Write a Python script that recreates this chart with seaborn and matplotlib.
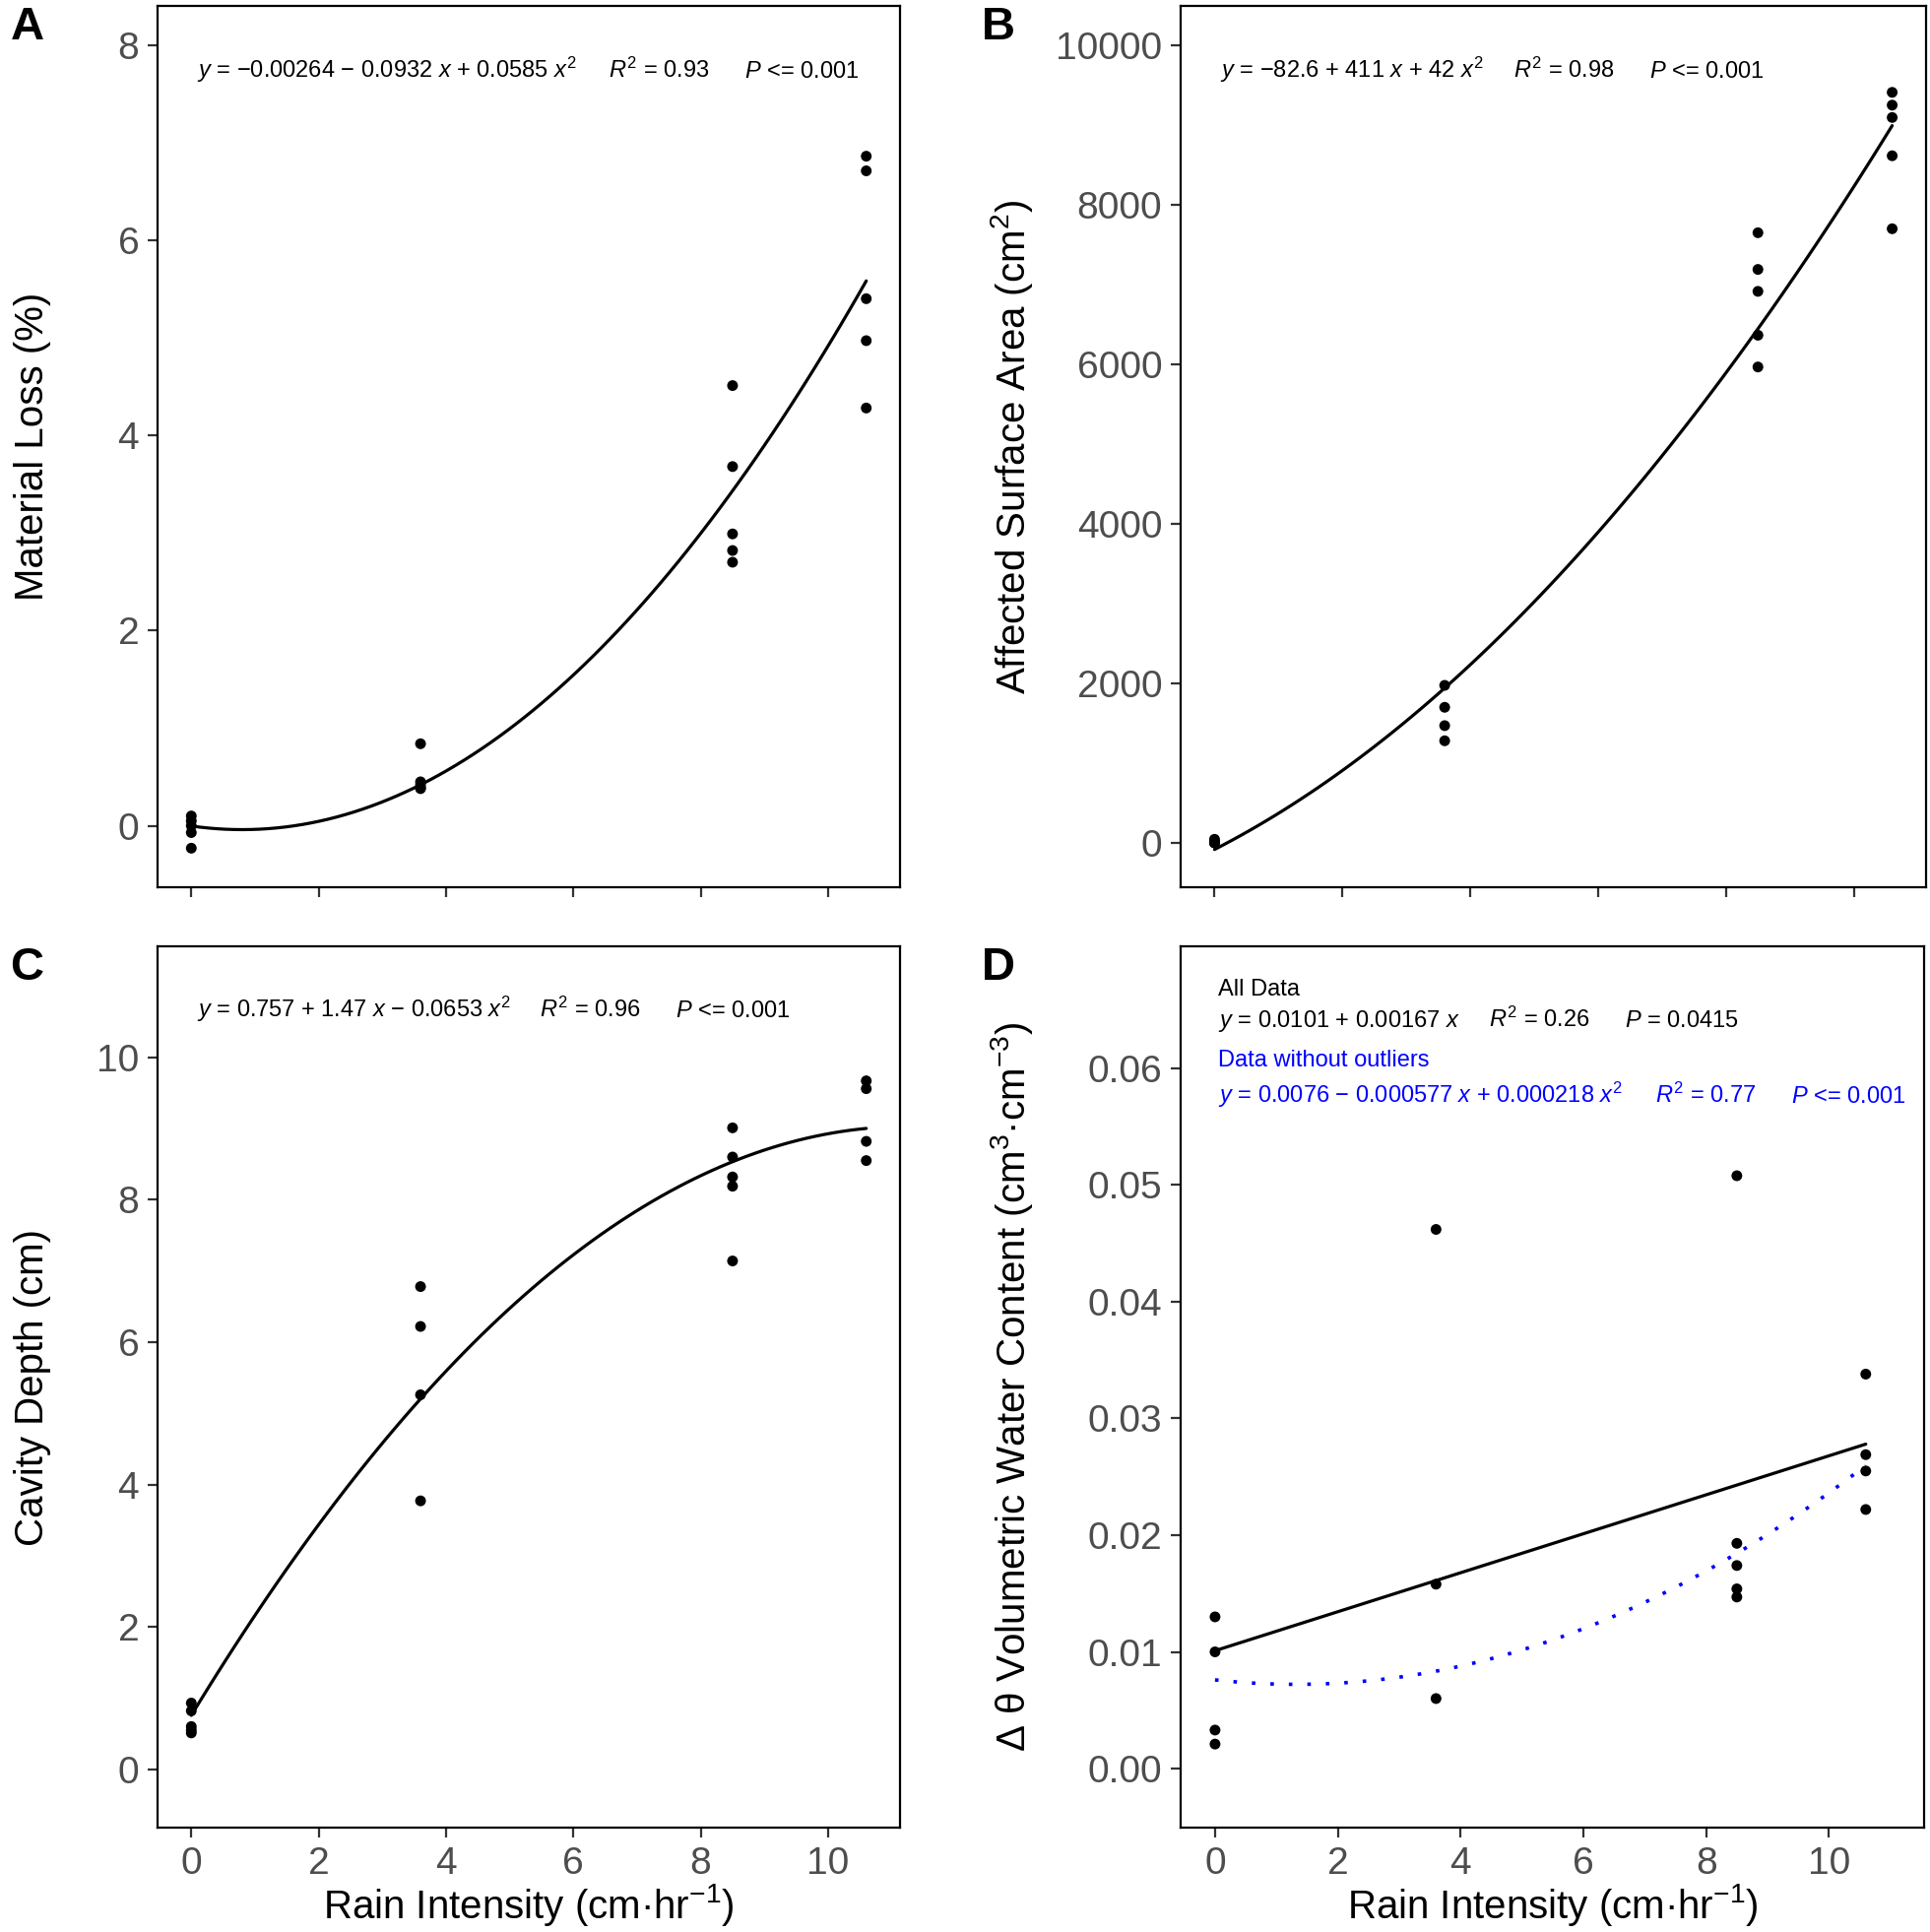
import numpy as np
import pandas as pd
import matplotlib
matplotlib.use("Agg")
import matplotlib.pyplot as plt
import seaborn as sns
from matplotlib import font_manager

# ---------------- data ----------------
rain_levels = [0, 3.6, 8.5, 10.6]

loss_groups = [
    [0.10, 0.05, 0.00, -0.07, -0.23],
    [0.84, 0.45, 0.42, 0.39, 0.38],
    [4.51, 3.68, 2.99, 2.82, 2.70],
    [6.86, 6.71, 5.40, 4.97, 4.28],
]
area_groups = [
    [45, 20, 10, 0, 0],
    [1975, 1700, 1470, 1280],
    [7650, 7190, 6915, 6365, 5967],
    [9410, 9250, 9095, 8615, 7700],
]
depth_groups = [
    [0.93, 0.82, 0.60, 0.55, 0.51],
    [6.78, 6.22, 5.26, 3.77],
    [9.01, 8.60, 8.32, 8.19, 7.14],
    [9.67, 9.56, 8.82, 8.55],
]
vwc_groups = [
    [0.0130, 0.0100, 0.0033, 0.0021],
    [0.0462, 0.0158, 0.0060],
    [0.0508, 0.0193, 0.0174, 0.0154, 0.0147],
    [0.0338, 0.0269, 0.0255, 0.0222],
]

# fitted polynomial coefficients (c0, c1, c2) as printed on the chart
coef_loss = [-0.00264, -0.0932, 0.0585]
coef_area = [-82.6, 411, 42]
coef_depth = [0.757, 1.47, -0.0653]
coef_vwc_all = [0.0101, 0.00167, 0.0]
coef_vwc_clean = [0.0076, -0.000577, 0.000218]

x_ticks = [0, 2, 4, 6, 8, 10]
loss_ticks = [0, 2, 4, 6, 8]
area_ticks = [0, 2000, 4000, 6000, 8000, 10000]
depth_ticks = [0, 2, 4, 6, 8, 10]
vwc_ticks = [0.00, 0.01, 0.02, 0.03, 0.04, 0.05, 0.06]

# ---------------- style ----------------
sns.set_theme(style="white")
names = {f.name for f in font_manager.fontManager.ttflist}
fam = "Liberation Sans" if "Liberation Sans" in names else "DejaVu Sans"
plt.rcParams["font.family"] = [fam, "DejaVu Sans"]
plt.rcParams["mathtext.fontset"] = "custom"
plt.rcParams["mathtext.rm"] = fam
plt.rcParams["mathtext.it"] = fam + ":italic"
plt.rcParams["mathtext.bf"] = fam + ":bold"

W, H = 1960, 1962
fig = plt.figure(figsize=(W / 100, H / 100), dpi=100)


def fx(px):
    return px / W


def fy(py):
    return 1 - py / H


def rect(l, t, r, b):
    return [l / W, 1 - b / H, (r - l) / W, (b - t) / H]


def frame(groups):
    xs, ys = [], []
    for lv, g in zip(rain_levels, groups):
        xs += [lv] * len(g)
        ys += list(g)
    return pd.DataFrame({"x": xs, "y": ys})


def style_axes(ax, xlim, ylim, yticks, ytick_fmt, show_xlabels):
    ax.set_xlim(*xlim)
    ax.set_ylim(*ylim)
    ax.set_xticks(x_ticks)
    ax.set_yticks(yticks)
    ax.set_yticklabels([ytick_fmt(v) for v in yticks])
    for sp in ax.spines.values():
        sp.set_visible(True)
        sp.set_color("black")
        sp.set_linewidth(1.6)
    ax.tick_params(axis="both", which="major", direction="out", length=7.5,
                   width=1.6, color="#333333", labelsize=28,
                   labelcolor="#4D4D4D", pad=6,
                   bottom=True, left=True, top=False, right=False)
    ax.grid(False)
    ax.set_facecolor("white")
    if not show_xlabels:
        ax.tick_params(labelbottom=False)
        ax.set_xlabel("")
    else:
        ax.set_xlabel("Rain Intensity (cm·hr$^{-1}$)", fontsize=29, color="black")
        ax.xaxis.set_label_coords(0.5, -0.062)


def draw_panel(ax, groups, coef):
    df = frame(groups)
    xs = np.linspace(min(rain_levels), max(rain_levels), 80)
    ys = coef[0] + coef[1] * xs + coef[2] * xs ** 2
    sns.lineplot(x=xs, y=ys, ax=ax, color="black", linewidth=2.3, sort=False)
    sns.scatterplot(data=df, x="x", y="y", ax=ax, color="black", s=62,
                    edgecolor="none", linewidth=0, legend=False, zorder=5)


int_fmt = lambda v: f"{v:g}"

# ---- A ----
axA = fig.add_axes(rect(160, 6, 914, 901))
draw_panel(axA, loss_groups, coef_loss)
style_axes(axA, (-0.53, 11.13), (-0.63, 8.40), loss_ticks, int_fmt, False)
axA.set_ylabel("Material Loss (%)", fontsize=29, color="black")
axA.yaxis.set_label_coords(-0.143, 0.5)

# ---- B ----
axB = fig.add_axes(rect(1199, 6, 1956, 901))
draw_panel(axB, area_groups, coef_area)
style_axes(axB, (-0.53, 11.13), (-556, 10494), area_ticks, int_fmt, False)
axB.set_ylabel("Affected Surface Area (cm$^2$)", fontsize=29, color="black")
axB.yaxis.set_label_coords(-0.195, 0.5)

# ---- C ----
axC = fig.add_axes(rect(160, 961, 914, 1856))
draw_panel(axC, depth_groups, coef_depth)
style_axes(axC, (-0.53, 11.13), (-0.82, 11.56), depth_ticks, int_fmt, True)
axC.set_ylabel("Cavity Depth (cm)", fontsize=29, color="black")
axC.yaxis.set_label_coords(-0.143, 0.5)

# ---- D ----
axD = fig.add_axes(rect(1199, 961, 1954, 1856))
dfD = frame(vwc_groups)
xsD = np.linspace(min(rain_levels), max(rain_levels), 80)
sns.lineplot(x=xsD, y=coef_vwc_all[0] + coef_vwc_all[1] * xsD + coef_vwc_all[2] * xsD ** 2,
             ax=axD, color="black", linewidth=2.3, sort=False)
sns.lineplot(x=xsD, y=coef_vwc_clean[0] + coef_vwc_clean[1] * xsD + coef_vwc_clean[2] * xsD ** 2,
             ax=axD, color="#0000FF", linewidth=2.6, linestyle=(0, (1, 4.2)), sort=False)
sns.scatterplot(data=dfD, x="x", y="y", ax=axD, color="black", s=62,
                edgecolor="none", linewidth=0, legend=False, zorder=5)
style_axes(axD, (-0.56, 11.55), (-0.00506, 0.07046), vwc_ticks,
           lambda v: f"{v:.2f}", True)
axD.set_ylabel("Δ θ Volumetric Water Content (cm$^3$·cm$^{-3}$)", fontsize=29, color="black")
axD.yaxis.set_label_coords(-0.196, 0.5)

# ---- annotations ----
EQ = 17


def ftext(px, py, s, color="black", size=EQ, **kw):
    fig.text(fx(px), fy(py), s, color=color, fontsize=size, ha="left",
             va="baseline", **kw)


ftext(200, 79, "$y$ = −0.00264 − 0.0932 $x$ + 0.0585 $x^2$")
ftext(618, 79, "$R^2$ = 0.93")
ftext(756, 79, "$P$ <= 0.001")

ftext(1239, 79, "$y$ = −82.6 + 411 $x$ + 42 $x^2$")
ftext(1537, 79, "$R^2$ = 0.98")
ftext(1675, 79, "$P$ <= 0.001")

ftext(200, 1033, "$y$ = 0.757 + 1.47 $x$ − 0.0653 $x^2$")
ftext(548, 1033, "$R^2$ = 0.96")
ftext(686, 1033, "$P$ <= 0.001")

ftext(1237, 1011, "All Data")
ftext(1237, 1043, "$y$ = 0.0101 + 0.00167 $x$")
ftext(1512, 1043, "$R^2$ = 0.26")
ftext(1650, 1043, "$P$ = 0.0415")
ftext(1237, 1083, "Data without outliers", color="#0000FF")
ftext(1237, 1120, "$y$ = 0.0076 − 0.000577 $x$ + 0.000218 $x^2$", color="#0000FF")
ftext(1681, 1120, "$R^2$ = 0.77", color="#0000FF")
ftext(1819, 1120, "$P$ <= 0.001", color="#0000FF")

# panel letters
for lab, px, py in [("A", 28, 28), ("B", 1014, 28), ("C", 27, 983), ("D", 1014, 983)]:
    fig.text(fx(px), fy(py), lab, fontsize=34, fontweight="bold",
             ha="center", va="center", color="black")

fig.savefig("out.png", dpi=100, facecolor="white")
